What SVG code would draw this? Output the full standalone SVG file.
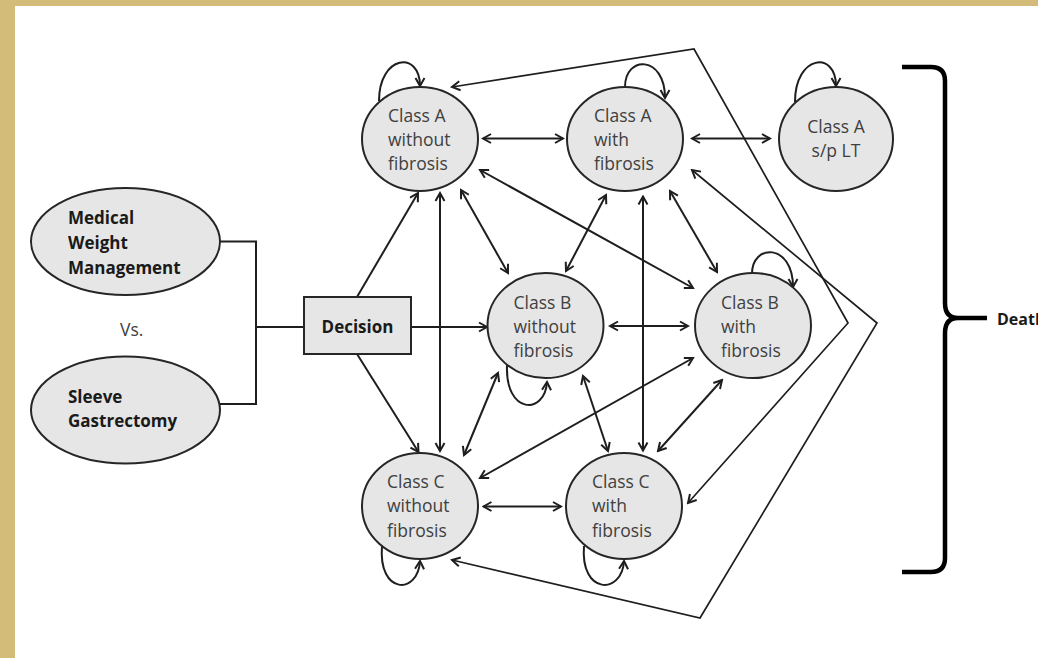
<svg xmlns="http://www.w3.org/2000/svg" width="1038" height="658" viewBox="0 0 1038 658">
<style>
.bg{fill:#ffffff}
.tan{fill:#D3BB7A}
.st{fill:#e6e6e6;stroke:#262626;stroke-width:2}
.lbl{font-family:"Open Sans","Liberation Sans",sans-serif;font-size:17.5px;fill:#404040}
.bl{font-family:"Open Sans","Liberation Sans",sans-serif;font-size:17px;font-weight:bold;fill:#1a1a1a}
.ln{fill:none;stroke:#1e1e1e;stroke-width:2}
.thin{fill:none;stroke:#1e1e1e;stroke-width:1.7}
.arr{marker-end:url(#ah)}
.dbl{marker-start:url(#ah);marker-end:url(#ah)}
.brace{fill:none;stroke:#000;stroke-width:4.5;stroke-linecap:butt;stroke-linejoin:round}
</style>
<defs>
<marker id="ah" viewBox="-11 -7 13 14" refX="0" refY="0" markerWidth="13" markerHeight="14" markerUnits="userSpaceOnUse" orient="auto-start-reverse">
<path d="M-8,-4.5 L0,0 L-8,4.5" fill="none" stroke="#1e1e1e" stroke-width="2"/>
</marker>
</defs>
<rect class="bg" x="0" y="0" width="1038" height="658"/>
<rect class="tan" x="0" y="0" width="1038" height="6"/>
<rect class="tan" x="0" y="0" width="15" height="658"/>

<g id="connectors">
<polyline class="ln" points="220,241.5 256,241.5 256,404 220,404"/>
<line class="ln" x1="256" y1="327" x2="304" y2="327"/>
<line class="ln arr" x1="357" y1="297" x2="418" y2="193"/>
<line class="ln arr" x1="357" y1="354" x2="418.5" y2="452"/>
<line class="ln arr" x1="411" y1="327" x2="487" y2="327"/>
<line class="ln dbl" x1="440" y1="193" x2="440" y2="451"/>
<line class="ln dbl" x1="461" y1="190" x2="508" y2="273"/>
<line class="ln dbl" x1="480" y1="170" x2="693" y2="288"/>
<line class="ln dbl" x1="483" y1="138.5" x2="563" y2="138.5"/>
<line class="ln dbl" x1="606" y1="195" x2="566" y2="271"/>
<line class="ln dbl" x1="643" y1="196.5" x2="643" y2="450.5"/>
<line class="ln dbl" x1="670" y1="191" x2="717" y2="272"/>
<line class="ln dbl" x1="692" y1="138.5" x2="770" y2="138.5"/>
<polyline class="thin dbl" points="452,87 694,49 848,323 688,503"/>
<polyline class="thin dbl" points="692,170 877,323 700,618 452,560"/>
<line class="ln dbl" x1="610" y1="326" x2="688" y2="326"/>
<line class="ln dbl" x1="498" y1="373" x2="464" y2="455"/>
<line class="ln dbl" x1="583" y1="376" x2="608" y2="451"/>
<line class="ln dbl" x1="693" y1="358" x2="480" y2="478"/>
<line class="ln dbl" x1="722" y1="380" x2="658" y2="451"/>
<line class="ln dbl" x1="483.5" y1="506.5" x2="561" y2="506.5"/>
<path class="ln arr" d="M379,101 C379,55 420,50 420,86"/>
<path class="ln arr" d="M625,87 C625,55 665,55 665,98"/>
<path class="ln arr" d="M795,102 C795,55 836,50 836,86"/>
<path class="ln arr" d="M752,274 C752,243 793,243 793,287"/>
<path class="ln arr" d="M507,365 C505,415 545,415 547,382"/>
<path class="ln arr" d="M382,546 C378,595 418,595 420,561"/>
<path class="ln arr" d="M584,546 C580,595 622,595 624,561"/>
<path class="brace" d="M902,67 L931,67 Q945,67 945,81 L945,303 Q945,318 958,318 L987,318 M958,318 Q945,318 945,333 L945,558 Q945,572 931,572 L902,572"/>
</g>

<g id="medical">
<ellipse class="st" cx="125.5" cy="241.5" rx="94.5" ry="53.5"/>
<text class="bl" x="68" y="224">Medical</text>
<text class="bl" x="68" y="249">Weight</text>
<text class="bl" x="68" y="274">Management</text>
</g>
<g id="vs">
<text class="lbl" x="120" y="336">Vs.</text>
</g>
<g id="sleeve">
<ellipse class="st" cx="125.5" cy="410" rx="94.5" ry="53.5"/>
<text class="bl" x="68" y="403">Sleeve</text>
<text class="bl" x="68" y="427">Gastrectomy</text>
</g>
<g id="decision">
<rect class="st" x="304" y="297" width="107" height="57"/>
<text class="bl" x="357.5" y="333" text-anchor="middle">Decision</text>
</g>

<g id="a-without">
<ellipse class="st" cx="420" cy="139" rx="58" ry="52"/>
<text class="lbl" x="388" y="122">Class A</text>
<text class="lbl" x="388" y="146">without</text>
<text class="lbl" x="388" y="170">fibrosis</text>
</g>
<g id="a-with">
<ellipse class="st" cx="625" cy="139" rx="58" ry="52"/>
<text class="lbl" x="594" y="122">Class A</text>
<text class="lbl" x="594" y="146">with</text>
<text class="lbl" x="594" y="170">fibrosis</text>
</g>
<g id="a-lt">
<ellipse class="st" cx="836" cy="139" rx="57" ry="52"/>
<text class="lbl" x="836" y="133" text-anchor="middle">Class A</text>
<text class="lbl" x="836" y="157" text-anchor="middle">s/p LT</text>
</g>
<g id="b-without">
<ellipse class="st" cx="545.5" cy="325.5" rx="58" ry="52.5"/>
<text class="lbl" x="513.5" y="308.5">Class B</text>
<text class="lbl" x="513.5" y="332.5">without</text>
<text class="lbl" x="513.5" y="356.5">fibrosis</text>
</g>
<g id="b-with">
<ellipse class="st" cx="753" cy="325.5" rx="58" ry="52.5"/>
<text class="lbl" x="721" y="308.5">Class B</text>
<text class="lbl" x="721" y="332.5">with</text>
<text class="lbl" x="721" y="356.5">fibrosis</text>
</g>
<g id="c-without">
<ellipse class="st" cx="420" cy="506" rx="58" ry="53"/>
<text class="lbl" x="387" y="488">Class C</text>
<text class="lbl" x="387" y="512">without</text>
<text class="lbl" x="387" y="537">fibrosis</text>
</g>
<g id="c-with">
<ellipse class="st" cx="624" cy="506" rx="58" ry="53"/>
<text class="lbl" x="592" y="488">Class C</text>
<text class="lbl" x="592" y="512">with</text>
<text class="lbl" x="592" y="537">fibrosis</text>
</g>
<g id="death">
<text class="bl" x="997" y="325" style="font-size:16px">Death</text>
</g>
</svg>
